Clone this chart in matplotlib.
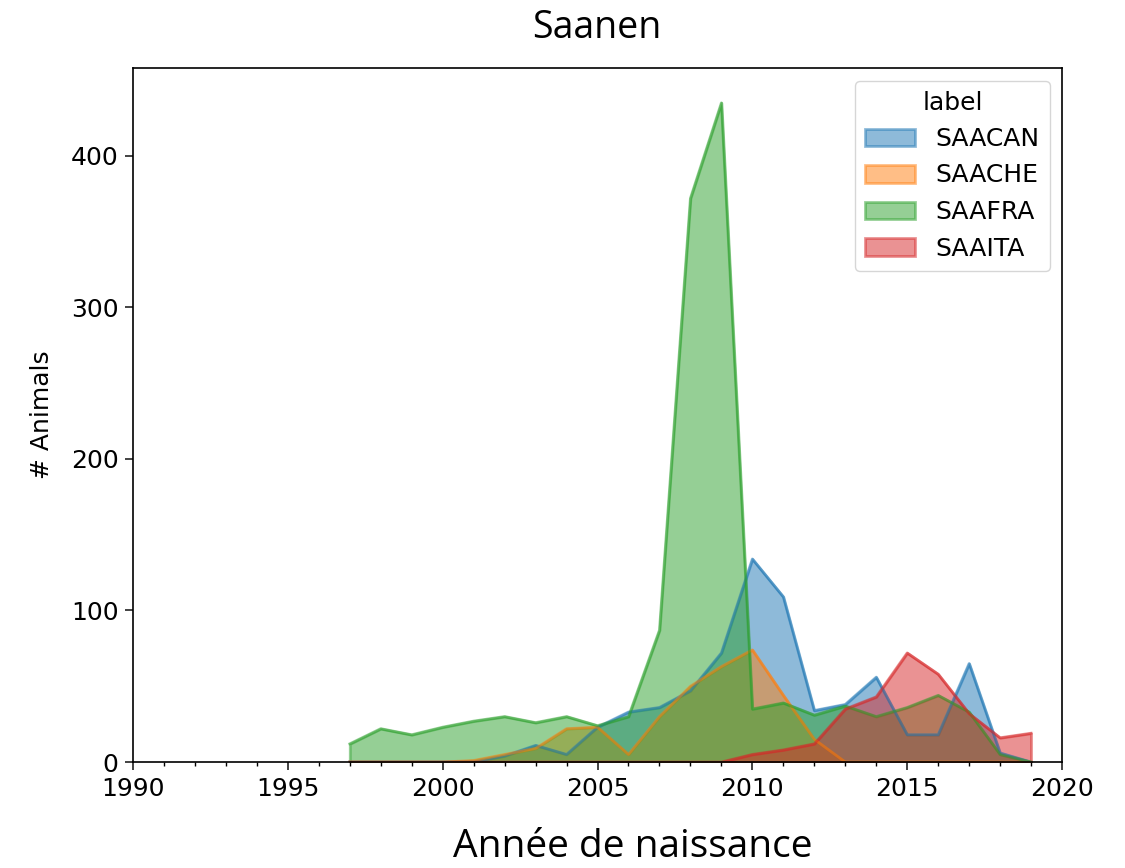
# ____________________________________________________________
# import modules

import numpy as np
import pandas as pd
import matplotlib.pyplot as plt
from matplotlib.ticker import MultipleLocator


# ____________________________________________________________
# data

years = list(range(1997, 2020))

saacan = [0, 0, 0, 0, 0, 4, 11, 5, 23, 33, 36, 47, 72, 134, 109, 34, 38, 56, 18, 18, 65, 6, 0]
saache = [0, 0, 0, 0, 1, 5, 9, 22, 23, 5, 30, 50, 63, 74, 44, 15, 0, 0, 0, 0, 0, 0, 0]
saafra = [12, 22, 18, 23, 27, 30, 26, 30, 24, 30, 87, 372, 435, 35, 39, 31, 37, 30, 36, 44, 33, 5, 0]
saaita = [0, 0, 0, 0, 0, 0, 0, 0, 0, 0, 0, 0, 0, 5, 8, 12, 35, 43, 72, 58, 32, 16, 19]

df = pd.DataFrame({'SAACAN': saacan, 'SAACHE': saache,
                   'SAAFRA': saafra, 'SAAITA': saaita}, index=years)
df.columns.name = 'label'


# ____________________________________________________________
# plot

W, H = 1125, 868
fig = plt.figure(figsize=(W / 100, H / 100), dpi=100)
ax = fig.add_axes([133 / W, 1 - 762 / H, (1062 - 133) / W, (762 - 68) / H])

df.plot.area(ax=ax, stacked=False, linewidth=2)

ax.set_xlim(1990, 2020)
ax.set_ylim(0, 458)
ax.xaxis.set_major_locator(MultipleLocator(5))
ax.xaxis.set_minor_locator(MultipleLocator(1))
ax.yaxis.set_major_locator(MultipleLocator(100))
ax.tick_params(labelsize=18, width=1.2, length=5.5, pad=5, color='#222222')
ax.tick_params(which='minor', width=1.0, length=3.2)
for s in ax.spines.values():
    s.set_linewidth(1.2)

ax.set_ylabel('# Animals', fontsize=18, labelpad=12)
ax.set_xlabel('')

# title and x label (set in a different font, as in the slide)
fig.text(597 / W, 1 - 38 / H, 'Saanen', fontsize=27, family='Open Sans',
         ha='center', va='baseline')
fig.text(633 / W, 2 / H, 'Année de naissance', fontsize=28, family='Open Sans',
         ha='center', va='bottom')

leg = ax.legend(title='label', fontsize=18, title_fontsize=18, loc='upper right')

fig.savefig('out.png', dpi=100)
